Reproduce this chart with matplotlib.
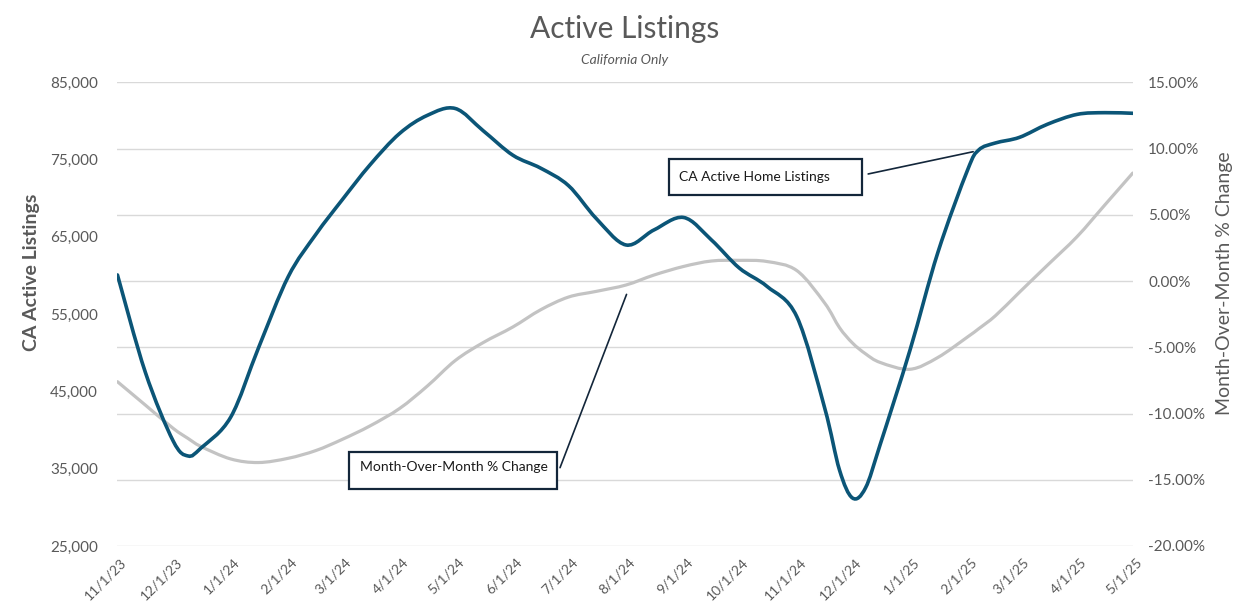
import numpy as np
import pandas as pd
import matplotlib
matplotlib.use("Agg")
import matplotlib.pyplot as plt
import matplotlib.dates as mdates
import matplotlib.transforms as mtransforms
from matplotlib.patches import Rectangle, PathPatch
from matplotlib.path import Path
from matplotlib.ticker import FuncFormatter, FixedLocator

plt.rcParams['font.family'] = ['Lato', 'DejaVu Sans']

# points: 1st and 16th of each month plus a few extra dates
dates = [
    "2023-11-01", "2023-11-16", "2023-12-01", "2023-12-09", "2023-12-16",
    "2024-01-01", "2024-01-16", "2024-02-01", "2024-02-16", "2024-03-01",
    "2024-03-16", "2024-04-01", "2024-04-16", "2024-05-01", "2024-05-16",
    "2024-06-01", "2024-06-16", "2024-07-01", "2024-07-16", "2024-08-01",
    "2024-08-16", "2024-09-01", "2024-09-16", "2024-10-01", "2024-10-16",
    "2024-11-01", "2024-11-16", "2024-11-24", "2024-12-01", "2024-12-08",
    "2024-12-16", "2025-01-01", "2025-01-16", "2025-02-01", "2025-02-07",
    "2025-02-16", "2025-03-01", "2025-03-16", "2025-04-01", "2025-04-16",
    "2025-05-01",
]

active_listings = [
    60070, 47490, 38590, 36650, 37680,
    41670, 50650, 59850, 65360, 69770,
    74300, 78380, 80730, 81610, 78740,
    75570, 73890, 71630, 67360, 63950,
    65890, 67510, 64600, 60970, 58580,
    54680, 42870, 34830, 31210, 32510,
    38190, 50360, 62980, 73650, 76240,
    77150, 77880, 79570, 80850, 81070,
    80990,
]

mom_change = [
    -7.60, -9.36, -11.12, -11.88, -12.49,
    -13.43, -13.70, -13.38, -12.79, -11.96,
    -10.94, -9.62, -7.92, -6.00, -4.65,
    -3.47, -2.17, -1.21, -0.78, -0.30,
    0.45, 1.10, 1.51, 1.56, 1.47,
    0.79, -1.66, -3.52, -4.68, -5.49,
    -6.15, -6.66, -5.77, -4.22, -3.60,
    -2.62, -0.84, 1.19, 3.35, 5.75,
    8.15,
]

tick_dates = pd.date_range("2023-11-01", "2025-05-01", freq="MS")
tick_labels = [f"{d.month}/{d.day}/{d.strftime('%y')}" for d in tick_dates]

left_ticks = [25000, 35000, 45000, 55000, 65000, 75000, 85000]
right_ticks = [-20, -15, -10, -5, 0, 5, 10, 15]

blue = '#0b5577'
light = '#c3c3c3'
txt = '#595959'
navy = '#13263a'


def smooth_line(ax, xs, ys, **kw):
    # excel style "smoothed line": bezier segments through every point
    p = np.column_stack([xs, ys]).astype(float)
    ext = np.vstack([p[0], p, p[-1]])
    verts = [p[0]]
    codes = [Path.MOVETO]
    for i in range(len(p) - 1):
        c1 = p[i] + (ext[i + 2] - ext[i]) / 6
        c2 = p[i + 1] - (ext[i + 3] - ext[i + 1]) / 6
        verts += [c1, c2, p[i + 1]]
        codes += [Path.CURVE4] * 3
    patch = PathPatch(Path(verts, codes), fill=False, **kw)
    ax.add_patch(patch)
    return patch


x = mdates.date2num(pd.to_datetime(dates))

fig = plt.figure(figsize=(12.55, 6.11), dpi=100)
ax = fig.add_axes([0.0936, 0.1064, 0.8090, 0.7589])
ax2 = ax.twinx()

# gridlines live on the back axes so both lines sit above them
ax.set_zorder(ax2.get_zorder() + 1)
ax.patch.set_visible(False)

smooth_line(ax2, x, mom_change, edgecolor=light, lw=2.3, capstyle='round')
smooth_line(ax, x, active_listings, edgecolor=blue, lw=2.6, capstyle='round')

ax.xaxis_date()
ax.set_xlim(tick_dates[0], tick_dates[-1])
ax.set_ylim(25000, 85000)
ax2.set_ylim(-20, 15)

ax.yaxis.set_major_locator(FixedLocator(left_ticks))
ax.yaxis.set_major_formatter(FuncFormatter(lambda v, p: f"{int(v):,}"))
ax2.yaxis.set_major_locator(FixedLocator(right_ticks))
ax2.yaxis.set_major_formatter(FuncFormatter(lambda v, p: f"{v:.2f}%"))

ax2.grid(axis='y', color='#d9d9d9', lw=1)
ax2.set_axisbelow(True)

for a in (ax, ax2):
    for s in a.spines.values():
        s.set_visible(False)
    a.tick_params(length=0, labelsize=11, labelcolor=txt)

ax.tick_params(axis='y', pad=14)
ax2.tick_params(axis='y', pad=11)

ax.set_xticks(tick_dates)
ax.set_xticklabels(tick_labels, rotation=45, ha='right', va='center',
                   rotation_mode='anchor', fontsize=10, color=txt)
offset = mtransforms.ScaledTranslation(7 / 100, -9 / 100, fig.dpi_scale_trans)
for lab in ax.get_xticklabels():
    lab.set_transform(lab.get_transform() + offset)

ax.set_ylabel("CA Active Listings", fontsize=14, fontweight='bold', color=txt)
ax.yaxis.set_label_coords(-0.0765, 0.591)
ax2.set_ylabel("Month-Over-Month % Change", fontsize=14, color=txt)
ax2.yaxis.set_label_coords(1.082, 0.566)

fig.text(0.498, 0.952, "Active Listings", ha='center', va='center', fontsize=21.5, color=txt)
fig.text(0.498, 0.902, "California Only", ha='center', va='center', fontsize=10,
         style='italic', color=txt)

# callout boxes
ax.add_patch(Rectangle((0.5430, 0.7569), 0.1907, 0.0777, transform=ax.transAxes,
                       fill=True, facecolor='white', edgecolor=navy, lw=1.6,
                       clip_on=False, zorder=5))
ax.text(0.5535, 0.7965, "CA Active Home Listings", transform=ax.transAxes,
        ha='left', va='center', fontsize=10, color='#1a1a1a', zorder=6)
ax.annotate('', xy=(pd.Timestamp("2025-02-04"), 76020), xycoords='data',
            xytext=(0.7394, 0.8023), textcoords='axes fraction',
            arrowprops=dict(arrowstyle='-', color=navy, lw=1.2, shrinkA=0, shrinkB=0),
            zorder=6)

ax.add_patch(Rectangle((0.2283, 0.1229), 0.2043, 0.0805, transform=ax.transAxes,
                       fill=True, facecolor='white', edgecolor=navy, lw=1.6,
                       clip_on=False, zorder=5))
ax.text(0.2390, 0.1700, "Month-Over-Month % Change", transform=ax.transAxes,
        ha='left', va='center', fontsize=10, color='#1a1a1a', zorder=6)
ax.annotate('', xy=(0.5014, 0.5426), xycoords='axes fraction',
            xytext=(0.4359, 0.1689), textcoords='axes fraction',
            arrowprops=dict(arrowstyle='-', color=navy, lw=1.2, shrinkA=0, shrinkB=0),
            zorder=6)

fig.savefig("out.png", dpi=100)
